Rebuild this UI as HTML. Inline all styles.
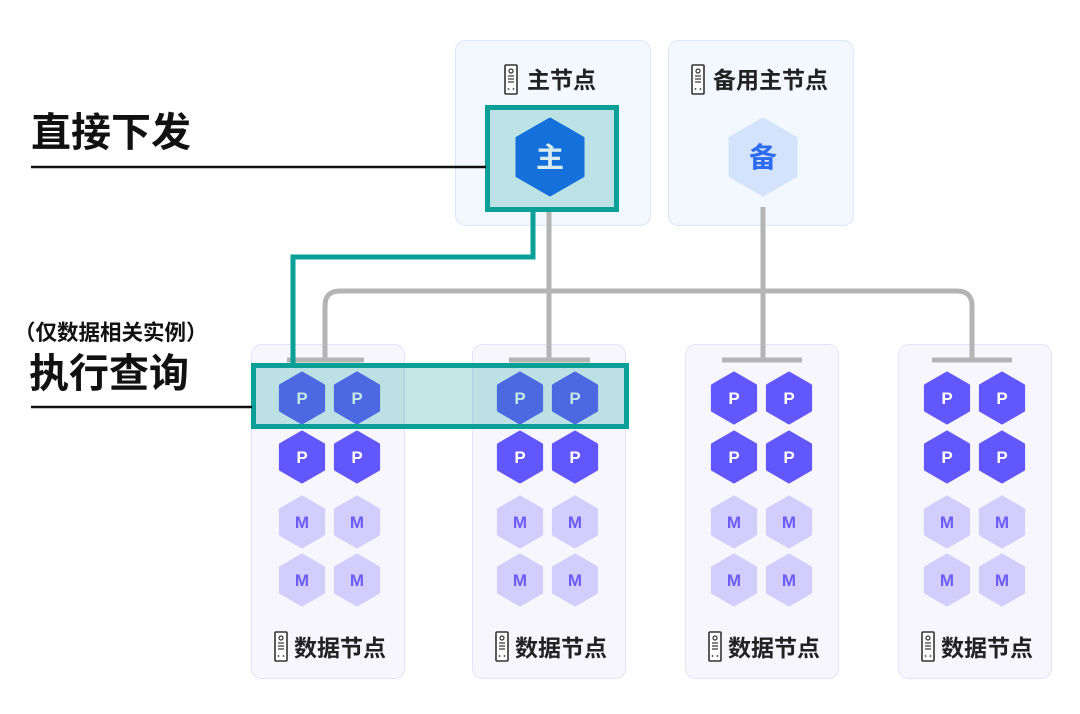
<!DOCTYPE html>
<html><head><meta charset="utf-8"><style>
html,body{margin:0;padding:0;background:#fff;}
svg{display:block;}
text{font-family:"Liberation Sans","Noto Sans CJK SC",sans-serif;}
</style></head><body>
<svg width="1080" height="714" viewBox="0 0 1080 714" xmlns="http://www.w3.org/2000/svg">
<defs>
<g id="srv">
<rect x="0" y="0" width="12" height="29" rx="1" fill="#fff" stroke="#333" stroke-width="1.6"/>
<circle cx="6" cy="6" r="2" fill="none" stroke="#333" stroke-width="1.2"/>
<line x1="3" y1="11" x2="9" y2="11" stroke="#333" stroke-width="1.2"/>
<line x1="3" y1="14" x2="9" y2="14" stroke="#333" stroke-width="1.2"/>
<line x1="3" y1="17" x2="9" y2="17" stroke="#333" stroke-width="1.2"/>
<circle cx="3.5" cy="24" r="0.9" fill="#333"/><circle cx="8.5" cy="24" r="0.9" fill="#333"/>
</g>
<polygon id="hp" points="0,-25 21.6,-12.5 21.6,12.5 0,25 -21.6,12.5 -21.6,-12.5" stroke-linejoin="round" stroke-width="3"/>
<polygon id="hb" points="0,-38 33,-19 33,19 0,38 -33,19 -33,-19" stroke-linejoin="round" stroke-width="3"/>
</defs>

<rect x="455.5" y="40.5" width="195" height="185" rx="10" fill="#f3f7fe" stroke="#dbe6fb"/>
<rect x="668.5" y="40.5" width="185" height="185" rx="10" fill="#f3f7fe" stroke="#dbe6fb"/>

<g fill="#f7f6fd" stroke="#e4e2fb">
<rect x="251.5" y="344.5" width="153" height="334" rx="10"/>
<rect x="472.5" y="344.5" width="153" height="334" rx="10"/>
<rect x="685.5" y="344.5" width="153" height="334" rx="10"/>
<rect x="898.5" y="344.5" width="153" height="334" rx="10"/>
</g>

<g stroke="#b4b4b4" stroke-width="5" fill="none">
<path d="M325,360 V306 Q325,291 340,291 H957 Q972,291 972,306 V360"/>
<line x1="549" y1="211" x2="549" y2="360"/>
<line x1="763" y1="207" x2="763" y2="360"/>
<line x1="287" y1="360" x2="364" y2="360"/>
<line x1="509" y1="360" x2="590" y2="360"/>
<line x1="722" y1="360" x2="802" y2="360"/>
<line x1="932" y1="360" x2="1012" y2="360"/>
</g>

<rect x="487.5" y="107.5" width="129" height="102" fill="#bde2e6" stroke="#0aa097" stroke-width="5"/>
<use href="#hb" x="550" y="157" fill="#1570dc" stroke="#1570dc"/>
<text x="550" y="167" font-size="28" font-weight="bold" fill="#d6ecef" text-anchor="middle">主</text>
<use href="#hb" x="763" y="157" fill="#d4e3fc" stroke="#d4e3fc"/>
<text x="763" y="167" font-size="28" font-weight="bold" fill="#2d6cf0" text-anchor="middle">备</text>

<use href="#srv" x="505" y="65"/>
<text x="527" y="88" font-size="23" font-weight="bold" fill="#222">主节点</text>
<use href="#srv" x="692" y="65"/>
<text x="713" y="88" font-size="23" font-weight="bold" fill="#222">备用主节点</text>

<g font-size="17" font-weight="bold" text-anchor="middle">
<g fill="#6257fa" stroke="#6257fa">
<use href="#hp" x="302" y="398"/><use href="#hp" x="357" y="398"/>
<use href="#hp" x="520" y="398"/><use href="#hp" x="575" y="398"/>
<use href="#hp" x="734" y="398"/><use href="#hp" x="789" y="398"/>
<use href="#hp" x="947" y="398"/><use href="#hp" x="1002" y="398"/>
<use href="#hp" x="302" y="457"/><use href="#hp" x="357" y="457"/>
<use href="#hp" x="520" y="457"/><use href="#hp" x="575" y="457"/>
<use href="#hp" x="734" y="457"/><use href="#hp" x="789" y="457"/>
<use href="#hp" x="947" y="457"/><use href="#hp" x="1002" y="457"/>
</g>
<g fill="#d3cdfc" stroke="#d3cdfc">
<use href="#hp" x="302" y="522"/><use href="#hp" x="357" y="522"/>
<use href="#hp" x="520" y="522"/><use href="#hp" x="575" y="522"/>
<use href="#hp" x="734" y="522"/><use href="#hp" x="789" y="522"/>
<use href="#hp" x="947" y="522"/><use href="#hp" x="1002" y="522"/>
<use href="#hp" x="302" y="580"/><use href="#hp" x="357" y="580"/>
<use href="#hp" x="520" y="580"/><use href="#hp" x="575" y="580"/>
<use href="#hp" x="734" y="580"/><use href="#hp" x="789" y="580"/>
<use href="#hp" x="947" y="580"/><use href="#hp" x="1002" y="580"/>
</g>
<g fill="#fff">
<text x="302" y="404">P</text><text x="357" y="404">P</text><text x="520" y="404">P</text><text x="575" y="404">P</text>
<text x="734" y="404">P</text><text x="789" y="404">P</text><text x="947" y="404">P</text><text x="1002" y="404">P</text>
<text x="302" y="463">P</text><text x="357" y="463">P</text><text x="520" y="463">P</text><text x="575" y="463">P</text>
<text x="734" y="463">P</text><text x="789" y="463">P</text><text x="947" y="463">P</text><text x="1002" y="463">P</text>
</g>
<g fill="#6a5cf5">
<text x="302" y="528">M</text><text x="357" y="528">M</text><text x="520" y="528">M</text><text x="575" y="528">M</text>
<text x="734" y="528">M</text><text x="789" y="528">M</text><text x="947" y="528">M</text><text x="1002" y="528">M</text>
<text x="302" y="586">M</text><text x="357" y="586">M</text><text x="520" y="586">M</text><text x="575" y="586">M</text>
<text x="734" y="586">M</text><text x="789" y="586">M</text><text x="947" y="586">M</text><text x="1002" y="586">M</text>
</g>
</g>

<path d="M533,211 V257 H293 V363" stroke="#0aa097" stroke-width="5" fill="none"/>
<rect x="253.5" y="365.5" width="373" height="61" fill="#0aa097" fill-opacity="0.25" stroke="#0aa097" stroke-width="5"/>

<g font-size="23" font-weight="bold" fill="#222">
<use href="#srv" x="275" y="632"/><text x="294" y="656">数据节点</text>
<use href="#srv" x="496" y="632"/><text x="515" y="656">数据节点</text>
<use href="#srv" x="709" y="632"/><text x="728" y="656">数据节点</text>
<use href="#srv" x="922" y="632"/><text x="941" y="656">数据节点</text>
</g>

<text x="31" y="146" font-size="40" font-weight="bold" fill="#111">直接下发</text>
<line x1="31" y1="167" x2="486" y2="167" stroke="#111" stroke-width="2.5"/>
<text x="14" y="340" font-size="21.5" font-weight="bold" fill="#111">（仅数据相关实例）</text>
<text x="29" y="387" font-size="40" font-weight="bold" fill="#111">执行查询</text>
<line x1="31" y1="407" x2="252" y2="407" stroke="#111" stroke-width="2.5"/>
</svg>
</body></html>
